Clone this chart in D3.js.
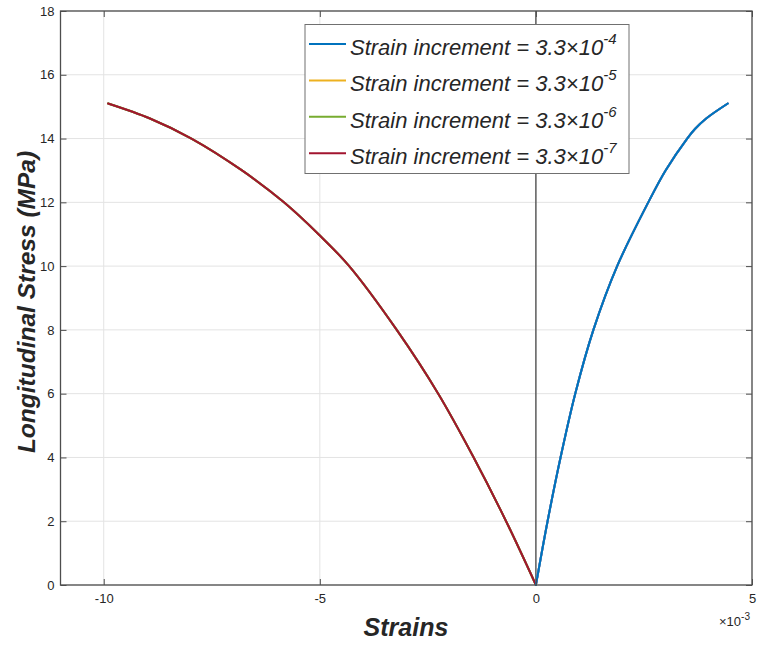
<!DOCTYPE html>
<html>
<head>
<meta charset="utf-8">
<script src="https://cdn.jsdelivr.net/npm/d3@7"></script>
<style>
  html, body { margin: 0; padding: 0; background: #fff; }
  svg { display: block; font-family: "Liberation Sans", Arial, sans-serif; }
</style>
</head>
<body>
<svg id="chart" width="757" height="646"></svg>
<script>
// Strain values are given in units of 1e-3 (see the ×10^-3 axis multiplier).
// Both branches start at the origin and run outward; the four step sizes
// give curves that lie on top of each other.
const compStrain = [0, -0.69, -1.44, -2.26, -3.22, -4.32, -5.03, -5.83, -6.80, -7.97, -8.93, -9.9];
const compStress = [0, 2, 4, 6, 8, 10, 11, 12, 13, 14, 14.63, 15.1];
const tensStrain = [0, 0.27, 0.57, 0.91, 1.33, 1.88, 2.60, 3.00, 3.50, 3.68, 3.94, 4.44];
const tensStress = [0, 2, 4, 6, 8, 10, 12, 13, 14, 14.3, 14.63, 15.1];

const seriesExp = ["-4", "-5", "-6", "-7"];
// Each run is plotted as two lines; colours follow the default line colour order.
const compColors = ["#0072BD", "#EDB120", "#77AC30", "#A2142F"];
const tensColors = ["#D95319", "#7E2F8E", "#4DBEEE", "#0072BD"];

const xTicks = [-10, -5, 0, 5];
const yTicks = [0, 2, 4, 6, 8, 10, 12, 14, 16, 18];

const svg = d3.select("#chart");
const axisColor = "#4d4d4d";
const textColor = "#262626";

const x = d3.scaleLinear().domain([-11, 5]).range([60.5, 752]);
const y = d3.scaleLinear().domain([0, 18]).range([585, 11]);
const [x0, x1] = x.range();
const [yb, yt] = y.range();

// grid
svg.append("g").selectAll("line").data(xTicks).join("line")
  .attr("x1", d => x(d)).attr("x2", d => x(d)).attr("y1", yt).attr("y2", yb)
  .attr("stroke", "#e3e3e3").attr("stroke-width", 1);
svg.append("g").selectAll("line").data(yTicks).join("line")
  .attr("x1", x0).attr("x2", x1).attr("y1", d => y(d)).attr("y2", d => y(d))
  .attr("stroke", "#e3e3e3").attr("stroke-width", 1);

// vertical reference line at zero strain
svg.append("line")
  .attr("x1", x(0)).attr("x2", x(0)).attr("y1", yt).attr("y2", yb)
  .attr("stroke", "#3a3a3a").attr("stroke-width", 1.2);

// curves
const line = d3.line().x(d => x(d[0])).y(d => y(d[1])).curve(d3.curveCatmullRom.alpha(0.5));
const comp = compStrain.map((s, i) => [s, compStress[i]]);
const tens = tensStrain.map((s, i) => [s, tensStress[i]]);
const curves = svg.append("g").attr("fill", "none").attr("stroke-width", 2)
  .attr("stroke-linejoin", "round").attr("stroke-linecap", "round");
seriesExp.forEach((e, i) => {
  curves.append("path").attr("d", line(comp)).attr("stroke", compColors[i]);
  curves.append("path").attr("d", line(tens)).attr("stroke", tensColors[i]);
});

// axes (ticks pointing inward on all four sides)
const tickLen = 6;
const fmt = d => String(d).replace("\u2212", "-");
svg.append("g").attr("transform", `translate(0,${yb})`)
  .call(d3.axisBottom(x).tickValues(xTicks).tickSize(-tickLen).tickPadding(9).tickFormat(fmt))
  .call(g => g.select(".domain").remove());
svg.append("g").attr("transform", `translate(0,${yt})`)
  .call(d3.axisTop(x).tickValues(xTicks).tickSize(-tickLen).tickFormat(""))
  .call(g => g.select(".domain").remove());
svg.append("g").attr("transform", `translate(${x0},0)`)
  .call(d3.axisLeft(y).tickValues(yTicks).tickSize(-tickLen).tickPadding(6).tickFormat(fmt))
  .call(g => g.select(".domain").remove());
svg.append("g").attr("transform", `translate(${x1},0)`)
  .call(d3.axisRight(y).tickValues(yTicks).tickSize(-tickLen).tickFormat(""))
  .call(g => g.select(".domain").remove());
svg.selectAll(".tick line").attr("stroke", axisColor);
svg.selectAll(".tick text").attr("fill", textColor).style("font-size", "13px")
  .style("font-family", "'Liberation Sans', Arial, sans-serif");

// axes box
svg.append("rect")
  .attr("x", x0).attr("y", yt).attr("width", x1 - x0).attr("height", yb - yt)
  .attr("fill", "none").attr("stroke", axisColor).attr("stroke-width", 1.3);

// exponent multiplier for the strain axis
const mult = svg.append("text").attr("x", 719).attr("y", 626)
  .attr("fill", textColor).style("font-size", "13px");
mult.append("tspan").text("\u00d710");
mult.append("tspan").attr("dy", -6).style("font-size", "10px").text("-3");

// axis titles
svg.append("text").attr("x", 406).attr("y", 636).attr("text-anchor", "middle")
  .attr("fill", textColor).style("font-size", "25px").style("font-weight", "bold")
  .style("font-style", "italic").text("Strains");
svg.append("text").attr("transform", "translate(35,302) rotate(-90)")
  .attr("text-anchor", "middle").attr("fill", textColor)
  .style("font-size", "24.5px").style("font-weight", "bold").style("font-style", "italic")
  .text("Longitudinal Stress (MPa)");

// legend
const lg = svg.append("g");
lg.append("rect").attr("x", 305).attr("y", 24.5).attr("width", 324).attr("height", 149)
  .attr("fill", "#fff").attr("stroke", "#707070").attr("stroke-width", 1);
seriesExp.forEach((e, i) => {
  const cy = 44 + i * 36.4;
  lg.append("line").attr("x1", 309).attr("x2", 346).attr("y1", cy).attr("y2", cy)
    .attr("stroke", compColors[i]).attr("stroke-width", 2);
  const t = lg.append("text").attr("x", 350).attr("y", cy + 11)
    .attr("fill", textColor).style("font-size", "22px").style("font-style", "italic");
  t.append("tspan").text("Strain increment = 3.3\u00d710");
  t.append("tspan").attr("dy", -11).style("font-size", "15px").text(e);
});
</script>
</body>
</html>
